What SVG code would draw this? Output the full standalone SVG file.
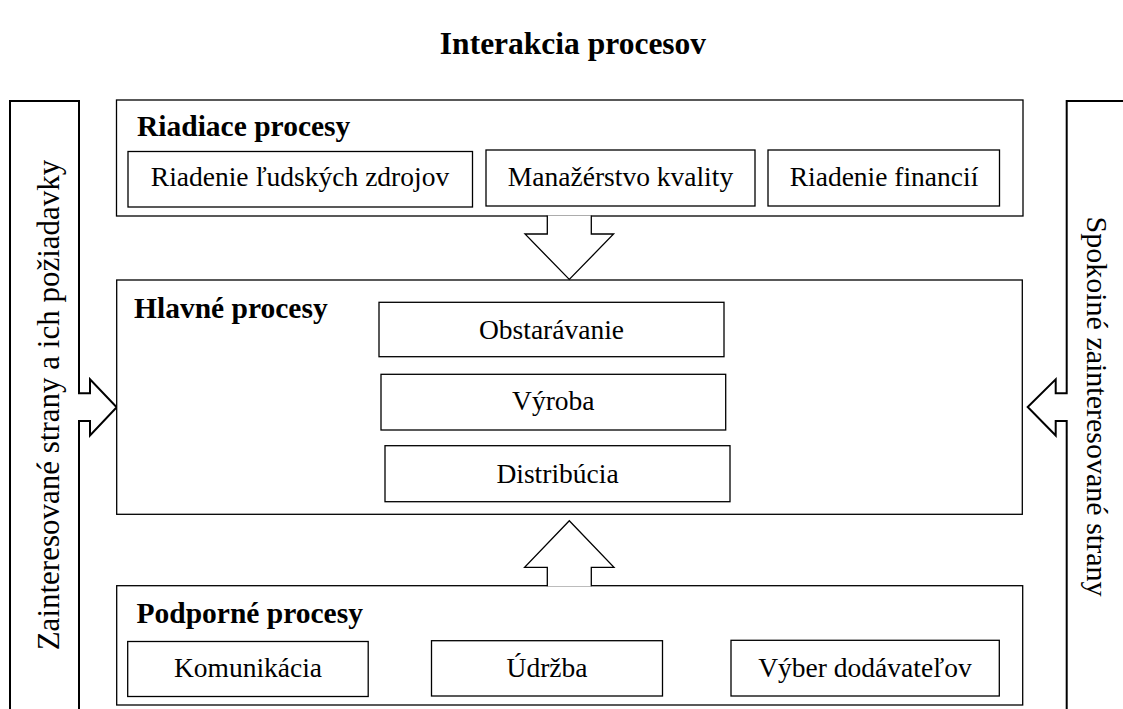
<svg xmlns="http://www.w3.org/2000/svg" width="1123" height="709" viewBox="0 0 1123 709">
  <style>
    .frame { fill: #fff; stroke: #000; stroke-width: 1.3; }
    .bar { fill: #fff; stroke: #000; stroke-width: 2; }
    .flow { fill: #fff; stroke: #000; stroke-width: 1.3; }
    text { font-family: "Liberation Serif", "Times New Roman", serif; fill: #000; }
    .title { font-size: 31.5px; font-weight: bold; text-anchor: middle; }
    .head { font-size: 29.5px; font-weight: bold; }
    .item { font-size: 27.5px; text-anchor: middle; }
    .side { font-size: 30px; text-anchor: middle; }
  </style>
  <rect width="1123" height="709" fill="#fff"/>

  <text class="title" x="573" y="54">Interakcia procesov</text>

  <!-- stakeholder bars with their arrows -->
  <g id="stakeholders-in">
    <path class="bar" d="M10,715 V101 H79 V393.3 H90 V379.3 L116.7,407.3 L90,435.5 V421 H79 V715"/>
    <text class="side" style="font-size:31px" transform="translate(59,405) rotate(-90)">Zainteresované strany a ich požiadavky</text>
  </g>
  <g id="stakeholders-out">
    <path class="bar" d="M1130,101 H1066.7 V393.3 H1055.7 V379.3 L1027.7,407 L1055.7,435.5 V421 H1066.7 V715"/>
    <text class="side" transform="translate(1087,406.5) rotate(90)">Spokoiné zainteresované strany</text>
  </g>

  <!-- management processes -->
  <g id="management">
    <rect class="frame" x="116.5" y="100" width="906.5" height="116"/>
    <text class="head" x="137" y="136">Riadiace procesy</text>
    <rect class="frame" x="128" y="151.5" width="344.5" height="55.5"/>
    <text class="item" x="300" y="186">Riadenie ľudských zdrojov</text>
    <rect class="frame" x="486" y="150" width="269" height="56"/>
    <text class="item" x="620.5" y="186">Manažérstvo kvality</text>
    <rect class="frame" x="768" y="150" width="231.5" height="56"/>
    <text class="item" x="884" y="186">Riadenie financií</text>
  </g>

  <!-- core processes -->
  <g id="core">
    <rect class="frame" x="116.7" y="280" width="905.6" height="234.3"/>
    <text class="head" x="134" y="318">Hlavné procesy</text>
    <rect class="frame" x="379" y="302.3" width="345" height="54.4"/>
    <text class="item" x="551.5" y="338.5">Obstarávanie</text>
    <rect class="frame" x="381" y="374.3" width="344.7" height="55.7"/>
    <text class="item" x="553.3" y="410">Výroba</text>
    <rect class="frame" x="385" y="445.7" width="345" height="56"/>
    <text class="item" x="557.5" y="483.3">Distribúcia</text>
  </g>

  <!-- support processes -->
  <g id="support">
    <rect class="frame" x="116.7" y="585.7" width="906" height="119.3"/>
    <text class="head" x="136.5" y="623.3">Podporné procesy</text>
    <rect class="frame" x="127.7" y="641.5" width="240.5" height="55"/>
    <text class="item" x="248" y="677">Komunikácia</text>
    <rect class="frame" x="431.5" y="640.7" width="231" height="55.3"/>
    <text class="item" x="547" y="676.5">Údržba</text>
    <rect class="frame" x="731" y="640.3" width="268.3" height="55.7"/>
    <text class="item" x="865" y="676.5">Výber dodávateľov</text>
  </g>

  <!-- block arrows between the process groups -->
  <g id="connectors">
    <path class="flow" d="M547.3,215.4 V234 H525 L569.3,279.4 L613.6,234 H591.3 V215.4"/>
    <path class="flow" d="M547.3,586.3 V567.3 H524.6 L569.3,520.7 L614,567.3 H591.3 V586.3"/>
  </g>
</svg>
